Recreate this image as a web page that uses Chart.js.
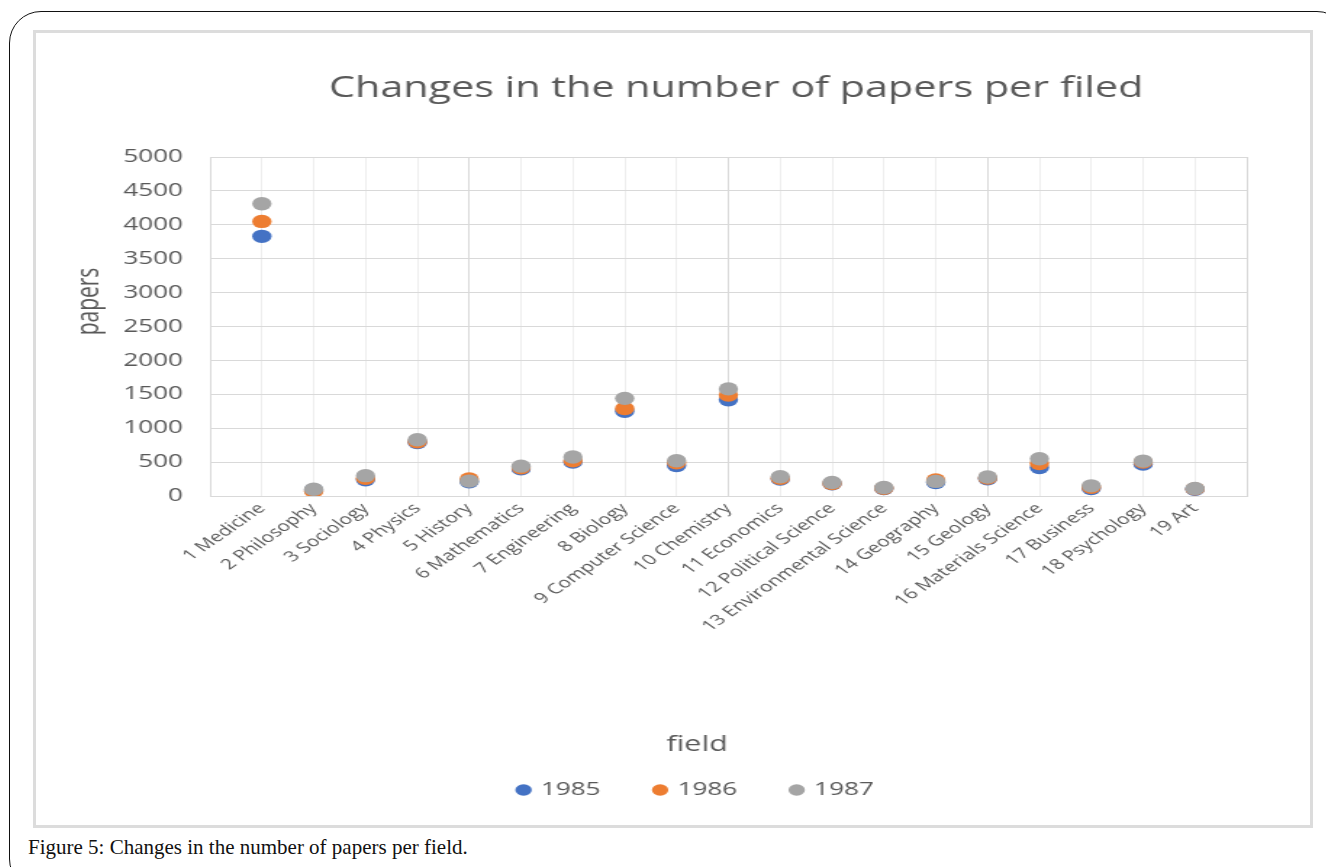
<!DOCTYPE html>
<html><head><meta charset="utf-8">
<script src="https://cdn.jsdelivr.net/npm/chart.js@4"></script>
<style>
html,body{margin:0;padding:0;width:1326px;height:867px;overflow:hidden;background:#fff;}
#frame{position:absolute;left:9px;top:11px;width:1340px;height:880px;border:1.3px solid #111;border-radius:32px;box-sizing:border-box;}
#panel{position:absolute;left:33px;top:30px;width:1280px;height:798px;border:3px solid #dcdcdc;box-sizing:border-box;}
#wrap{position:absolute;left:36px;top:33px;width:879px;height:792px;transform:scaleX(1.45);transform-origin:0 0;}
#caption{position:absolute;left:28px;top:837px;font-family:"Liberation Serif",serif;font-size:21px;line-height:21px;color:#111;white-space:nowrap;}
</style>
</head><body>
<div id="frame"></div>
<div id="panel"></div>
<div id="wrap"><canvas id="c"></canvas></div>
<div id="caption">Figure 5: Changes in the number of papers per field.</div>
<script>
const categories = ["1 Medicine","2 Philosophy","3 Sociology","4 Physics","5 History","6 Mathematics","7 Engineering","8 Biology","9 Computer Science","10 Chemistry","11 Economics","12 Political Science","13 Environmental Science","14 Geography","15 Geology","16 Materials Science","17 Business","18 Psychology","19 Art"];
const values1985 = [3830, 90, 240, 790, 210, 400, 500, 1250, 450, 1420, 250, 180, 110, 200, 255, 420, 110, 470, 100];
const values1986 = [4050, 70, 260, 800, 250, 415, 520, 1290, 490, 1490, 260, 185, 115, 235, 265, 480, 130, 500, 105];
const values1987 = [4310, 100, 300, 830, 220, 440, 575, 1440, 520, 1580, 285, 200, 125, 215, 280, 550, 150, 515, 110];
const seriesNames = ["1985", "1986", "1987"];
const seriesColors = ["#4472C4", "#ED7D31", "#A5A5A5"];
const yTickMax = 5000;
const yTickStep = 500;
const chartTitle = "Changes in the number of papers per filed";
const xTitle = "field";
const yTitle = "papers";

const toPoints = arr => arr.map((v, i) => ({x: i + 1, y: v}));
const allValues = [values1985, values1986, values1987];

const FONT = "'Open Sans', sans-serif";
const TXT = "#595959";

const titlesPlugin = {
  id: 'excelTitles',
  afterLayout(chart) {
    // centre the legend under the plot the way the original does
    if (chart.legend) {
      chart.legend.left += 38;
      chart.legend.right += 38;
    }
  },
  afterDraw(chart) {
    const ctx = chart.ctx;
    ctx.save();
    ctx.fillStyle = TXT;
    ctx.textAlign = 'center';
    ctx.textBaseline = 'alphabetic';
    ctx.font = "28.5px " + FONT;
    ctx.fillText(chartTitle, 482.8, 64);
    ctx.font = "21px " + FONT;
    ctx.fillText(xTitle, 455.9, 718);
    ctx.translate(43, 268.5);
    ctx.rotate(-Math.PI / 2);
    ctx.fillText(yTitle, 0, 0);
    ctx.restore();
  }
};

new Chart(document.getElementById('c'), {
  type: 'scatter',
  data: {
    datasets: seriesNames.map((name, i) => ({
      label: name,
      data: toPoints(allValues[i]),
      backgroundColor: seriesColors[i],
      borderColor: seriesColors[i],
      borderWidth: 0,
      pointRadius: 6.7,
      pointHoverRadius: 6.7,
      pointStyle: 'circle',
      order: 2 - i
    }))
  },
  options: {
    responsive: true,
    maintainAspectRatio: false,
    animation: false,
    layout: {padding: {left: 0, right: 44, top: 124, bottom: 16}},
    plugins: {
      title: {display: false},
      tooltip: {enabled: false},
      legend: {
        position: 'bottom',
        labels: {
          usePointStyle: true,
          boxWidth: 6,
          boxHeight: 8,
          padding: 38,
          color: TXT,
          font: {family: FONT, size: 18},
          sort: (a, b) => a.datasetIndex - b.datasetIndex
        }
      }
    },
    scales: {
      x: {
        type: 'linear',
        min: 0,
        max: 20,
        afterFit: s => { s.height = 247; },
        ticks: {
          stepSize: 1,
          autoSkip: false,
          minRotation: 45,
          maxRotation: 45,
          padding: 4,
          color: TXT,
          font: {family: FONT, size: 14.5},
          callback: v => categories[v - 1] || ''
        },
        grid: {
          drawTicks: false,
          color: c => (c.tick && c.tick.value % 5 === 0) ? '#d9d9d9' : '#eeeeee'
        },
        border: {color: '#d9d9d9'}
      },
      y: {
        min: 0,
        max: yTickMax,
        afterFit: s => { s.width = 120; },
        ticks: {
          stepSize: yTickStep,
          padding: 18.6,
          color: TXT,
          font: {family: FONT, size: 18},
          callback: v => String(v)
        },
        grid: {drawTicks: false, color: '#d9d9d9'},
        border: {color: '#d9d9d9'}
      }
    }
  },
  plugins: [titlesPlugin]
});
</script>
</body></html>
